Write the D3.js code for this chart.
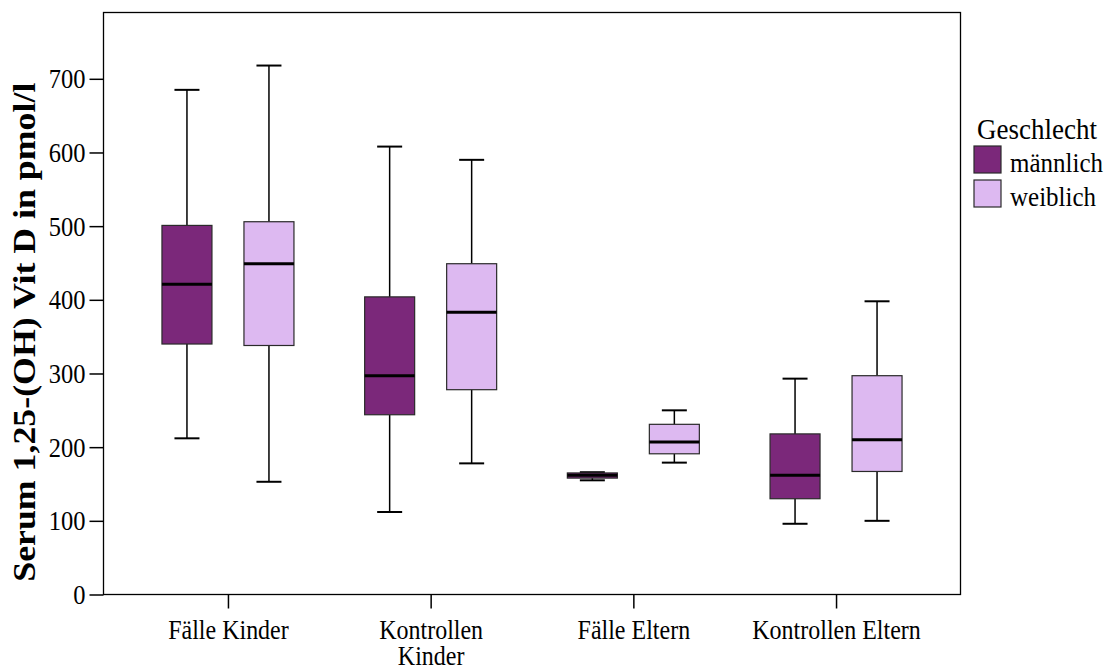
<!DOCTYPE html>
<html>
<head>
<meta charset="utf-8">
<script src="https://cdn.jsdelivr.net/npm/d3@7"></script>
<style>
  body { margin: 0; background: #fff; }
  svg text { font-family: "Liberation Serif", "DejaVu Serif", serif; fill: #000; }
</style>
</head>
<body>
<div id="chart"></div>
<script>
const categories = ['Fälle Kinder', 'Kontrollen Kinder', 'Fälle Eltern', 'Kontrollen Eltern'];
const categoryLabels = [['Fälle Kinder'], ['Kontrollen', 'Kinder'], ['Fälle Eltern'], ['Kontrollen Eltern']];
const sexes = ['männlich', 'weiblich'];
const yTicks = [0, 100, 200, 300, 400, 500, 600, 700];

// five-number summaries per category
const maleMin = [212, 112, 155, 96];
const maleQ1 = [340, 244, 158, 130];
const maleMedian = [421, 297, 162, 162];
const maleQ3 = [501, 404, 165, 218];
const maleMax = [685, 608, 166, 293];

const femaleMin = [153, 178, 179, 100];
const femaleQ1 = [338, 278, 191, 167];
const femaleMedian = [449, 383, 207, 210];
const femaleQ3 = [506, 449, 231, 297];
const femaleMax = [718, 590, 250, 398];

const colors = { 'männlich': '#7b287a', 'weiblich': '#ddb9f1' };

const width = 1118;
const height = 671;
const margin = { top: 12.5, right: 157.5, bottom: 76.5, left: 103.5 };
const innerWidth = width - margin.left - margin.right;
const innerHeight = height - margin.top - margin.bottom;

// the reference type looks a little taller than wide
const stretch = 1.12;

const boxes = [];
categories.forEach((cat, i) => {
  boxes.push({ cat, sex: 'männlich', min: maleMin[i], q1: maleQ1[i], median: maleMedian[i], q3: maleQ3[i], max: maleMax[i] });
  boxes.push({ cat, sex: 'weiblich', min: femaleMin[i], q1: femaleQ1[i], median: femaleMedian[i], q3: femaleQ3[i], max: femaleMax[i] });
});

const svg = d3.select('#chart')
  .append('svg')
  .attr('width', width)
  .attr('height', height);

const g = svg.append('g')
  .attr('transform', `translate(${margin.left}, ${margin.top})`);

const scaleX = d3.scalePoint().domain(categories).range([0, innerWidth]).padding(0.614);
const scaleSex = d3.scalePoint().domain(sexes).range([-41, 41]);
const scaleY = d3.scaleLinear().domain([0, 790]).range([innerHeight, 0]);

const boxWidth = 50;
const capWidth = 25;

// y axis
const yAxis = d3.axisLeft(scaleY).tickValues(yTicks).tickSize(14).tickFormat('');
const yg = g.append('g')
  .attr('class', 'chart-axis chart-axis--y')
  .call(yAxis)
  .call(sel => sel.select('.domain').remove())
  .call(sel => sel.selectAll('line').attr('stroke', '#000').attr('stroke-width', 1.5));

yg.selectAll('.tick text').remove();
yg.selectAll('.tick').append('text')
  .attr('transform', `translate(-18, 0) scale(1, ${stretch})`)
  .attr('text-anchor', 'end')
  .attr('dy', '0.33em')
  .attr('font-size', 24.5)
  .text(d => d);

// x axis
const xAxis = d3.axisBottom(scaleX).tickSize(14).tickFormat('');
const xg = g.append('g')
  .attr('class', 'chart-axis chart-axis--x')
  .attr('transform', `translate(0, ${innerHeight})`)
  .call(xAxis)
  .call(sel => sel.select('.domain').remove())
  .call(sel => sel.selectAll('line').attr('stroke', '#000').attr('stroke-width', 1.5));

xg.selectAll('.tick text').remove();
xg.selectAll('.tick').append('text')
  .attr('transform', `translate(0, 44) scale(1, ${stretch})`)
  .attr('font-size', 24)
  .attr('text-anchor', 'middle')
  .selectAll('tspan')
  .data((d, i) => categoryLabels[i])
  .join('tspan')
  .attr('x', 0)
  .attr('y', (d, j) => j * 26.5 / stretch)
  .text(d => d);

// frame
g.append('rect')
  .attr('width', innerWidth)
  .attr('height', innerHeight)
  .attr('fill', 'none')
  .attr('stroke', '#000')
  .attr('stroke-width', 1.3);

// boxes
const box = g.selectAll('.box')
  .data(boxes)
  .join('g')
  .attr('class', 'box')
  .attr('transform', d => `translate(${scaleX(d.cat) + scaleSex(d.sex)}, 0)`);

box.append('line')
  .attr('y1', d => scaleY(d.max))
  .attr('y2', d => scaleY(d.q3))
  .attr('stroke', '#000').attr('stroke-width', 1.5);

box.append('line')
  .attr('y1', d => scaleY(d.q1))
  .attr('y2', d => scaleY(d.min))
  .attr('stroke', '#000').attr('stroke-width', 1.5);

box.append('line')
  .attr('x1', -capWidth / 2).attr('x2', capWidth / 2)
  .attr('y1', d => scaleY(d.max)).attr('y2', d => scaleY(d.max))
  .attr('stroke', '#000').attr('stroke-width', 2);

box.append('line')
  .attr('x1', -capWidth / 2).attr('x2', capWidth / 2)
  .attr('y1', d => scaleY(d.min)).attr('y2', d => scaleY(d.min))
  .attr('stroke', '#000').attr('stroke-width', 2);

box.append('rect')
  .attr('x', -boxWidth / 2)
  .attr('width', boxWidth)
  .attr('y', d => scaleY(d.q3))
  .attr('height', d => scaleY(d.q1) - scaleY(d.q3))
  .attr('fill', d => colors[d.sex])
  .attr('stroke', '#2a2a2a')
  .attr('stroke-width', 1.2);

box.append('line')
  .attr('x1', -boxWidth / 2).attr('x2', boxWidth / 2)
  .attr('y1', d => scaleY(d.median)).attr('y2', d => scaleY(d.median))
  .attr('stroke', '#000').attr('stroke-width', 3);

// y title (glyphs a bit narrower across the baseline, as in the reference)
svg.append('text')
  .attr('transform', `translate(35, ${margin.top + scaleY(356)}) rotate(-90) scale(1, 0.87)`)
  .attr('text-anchor', 'middle')
  .attr('font-size', 35.8)
  .attr('font-weight', 'bold')
  .text('Serum 1,25-(OH) Vit D in pmol/l');

// legend
const legend = svg.append('g').attr('transform', 'translate(974, 0)');

legend.append('text')
  .attr('transform', `translate(3, 139) scale(1, ${stretch})`)
  .attr('font-size', 27)
  .text('Geschlecht');

const item = legend.selectAll('.legend-item')
  .data(sexes)
  .join('g')
  .attr('class', 'legend-item')
  .attr('transform', (d, i) => `translate(0, ${146 + i * 34})`);

item.append('rect')
  .attr('width', 27)
  .attr('height', 27)
  .attr('fill', d => colors[d])
  .attr('stroke', '#2a2a2a')
  .attr('stroke-width', 1.2);

item.append('text')
  .attr('transform', `translate(36, 25.5) scale(1, ${stretch})`)
  .attr('font-size', 25)
  .text(d => d);
</script>
</body>
</html>
